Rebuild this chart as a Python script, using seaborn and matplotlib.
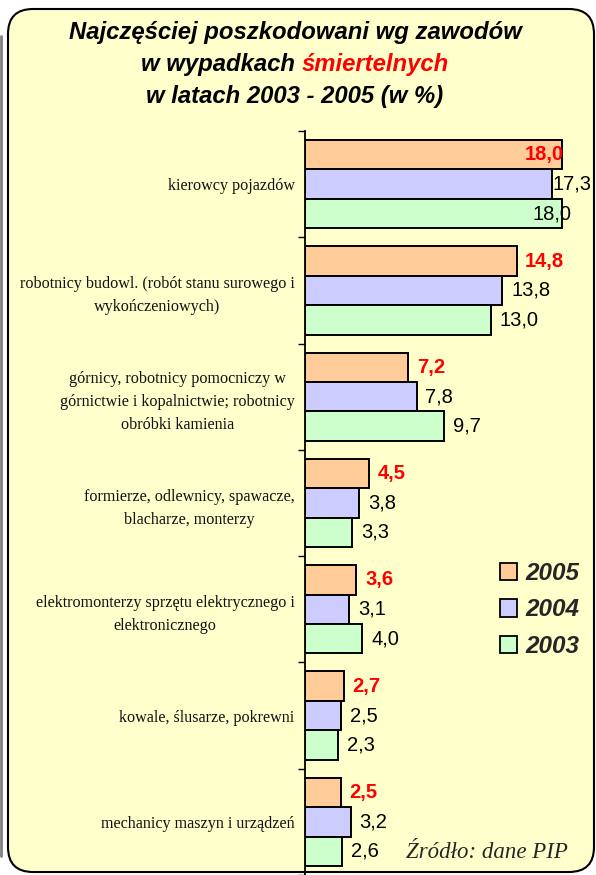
import numpy as np
import pandas as pd
import matplotlib
matplotlib.use('Agg')
import matplotlib.pyplot as plt
import seaborn as sns
from matplotlib.patches import FancyBboxPatch, Patch
from matplotlib.lines import Line2D

categories = [
    "kierowcy pojazdów",
    "robotnicy budowl. (robót stanu surowego i\nwykończeniowych)",
    "górnicy, robotnicy pomocniczy w\ngórnictwie i kopalnictwie; robotnicy\nobróbki kamienia",
    "formierze, odlewnicy, spawacze,\nblacharze, monterzy",
    "elektromonterzy sprzętu elektrycznego i\nelektronicznego",
    "kowale, ślusarze, pokrewni",
    "mechanicy maszyn i urządzeń",
]
years = ["2005", "2004", "2003"]
values_2005 = [18.0, 14.8, 7.2, 4.5, 3.6, 2.7, 2.5]
values_2004 = [17.3, 13.8, 7.8, 3.8, 3.1, 2.5, 3.2]
values_2003 = [18.0, 13.0, 9.7, 3.3, 4.0, 2.3, 2.6]
colors = ["#FFCC99", "#CCCCFF", "#CCFFCC"]

df = pd.DataFrame({
    "kategoria": categories * 3,
    "rok": [years[0]] * 7 + [years[1]] * 7 + [years[2]] * 7,
    "wartosc": values_2005 + values_2004 + values_2003,
})

sns.set_theme(style="ticks")
plt.rcParams['font.family'] = ['Liberation Sans', 'DejaVu Sans']

W, H = 596, 875
fig = plt.figure(figsize=(W / 100, H / 100), dpi=100)

# background rounded box
box = FancyBboxPatch((0.08, 0.03), 5.86, 8.63,
                     boxstyle="round,pad=0,rounding_size=0.25",
                     transform=fig.dpi_scale_trans, facecolor="#FFFFCC",
                     edgecolor="black", linewidth=1.5, zorder=-10)
fig.patches.append(box)
fig.lines.append(Line2D([1.2 / W, 1.2 / W], [1 - 36 / H, 1 - 856 / H],
                        transform=fig.transFigure, color="#808080", lw=2, zorder=-10))

ax = fig.add_axes([305 / W, 0, 286 / W, 744 / H])
ax.patch.set_visible(False)

sns.barplot(data=df, y="kategoria", x="wartosc", hue="rok", hue_order=years,
            palette=colors, saturation=1, orient="y", width=0.83, edgecolor="black",
            linewidth=1.4, legend=False, ax=ax)

ax.set_xlim(0, 20)
ax.set_xticks([])
ax.set_xlabel("")
ax.set_ylabel("")
for s in ["top", "right", "bottom"]:
    ax.spines[s].set_visible(False)
ax.spines["left"].set_color("black")
ax.spines["left"].set_linewidth(1.3)

ax.set_yticks(range(len(categories)))
ax.set_yticklabels(categories, fontfamily="Liberation Serif", fontsize=11.6,
                   multialignment="center", linespacing=1.55, color="#111111")
ax.tick_params(axis="y", which="major", length=0, pad=7.5)
ax.set_yticks(np.arange(-0.5, len(categories), 1), minor=True)
ax.tick_params(axis="y", which="minor", length=5, width=1, color="black",
               direction="out", left=True)

# value labels (labels that would leave the plot area are pulled back)
series_vals = [values_2005, values_2004, values_2003]
label_caps = [15.4, 17.3, 15.9]
for cont, vals, yr, cap in zip(ax.containers, series_vals, years, label_caps):
    first = yr == "2005"
    for patch, v in zip(cont, vals):
        yc = patch.get_y() + patch.get_height() / 2
        ax.text(min(v + 0.62, cap), yc, f"{v:.1f}".replace(".", ","),
                ha="left", va="center", fontsize=14.5,
                color="#FF0000" if first else "black",
                fontweight="bold" if first else "normal", clip_on=False)

# title
tp = dict(fontsize=17.2, fontweight="bold", fontstyle="italic", color="black", va="center")
cx = 295 / W
fig.text(cx, 1 - 33 / H, "Najczęściej poszkodowani wg zawodów", ha="center", **tp)
fig.text(cx, 1 - 96 / H, "w latach 2003 - 2005 (w %)", ha="center", **tp)
renderer = fig.canvas.get_renderer()
ta = fig.text(0, 1 - 64 / H, "w wypadkach", ha="left", **tp)
tb = fig.text(0, 1 - 64 / H, "śmiertelnych", ha="left", **{**tp, "color": "#FF0000"})
t1 = fig.text(0, 0, "w w", **tp)
t2 = fig.text(0, 0, "ww", **tp)
wa = ta.get_window_extent(renderer).width
wb = tb.get_window_extent(renderer).width
sp = t1.get_window_extent(renderer).width - t2.get_window_extent(renderer).width
t1.remove(); t2.remove()
total = wa + sp + wb
x0 = cx * W - total / 2
ta.set_x(x0 / W)
tb.set_x((x0 + wa + sp) / W)

# legend
handles = [Patch(facecolor=c, edgecolor="black", linewidth=1.3, label=y)
           for c, y in zip(colors, years)]
fig.legend(handles=handles, loc="center left", bbox_to_anchor=(500 / W, 1 - 610 / H),
           frameon=False, prop={"family": "Liberation Sans", "weight": "bold",
                                "style": "italic", "size": 17.5},
           handlelength=0.7, handleheight=0.7, handletextpad=0.35,
           labelspacing=0.55, borderpad=0, borderaxespad=0)

fig.text(568 / W, 1 - 852 / H, "Źródło: dane PIP", ha="right", va="center",
         family="Liberation Serif", style="italic", size=16.5)

fig.savefig("out.png", dpi=100)
